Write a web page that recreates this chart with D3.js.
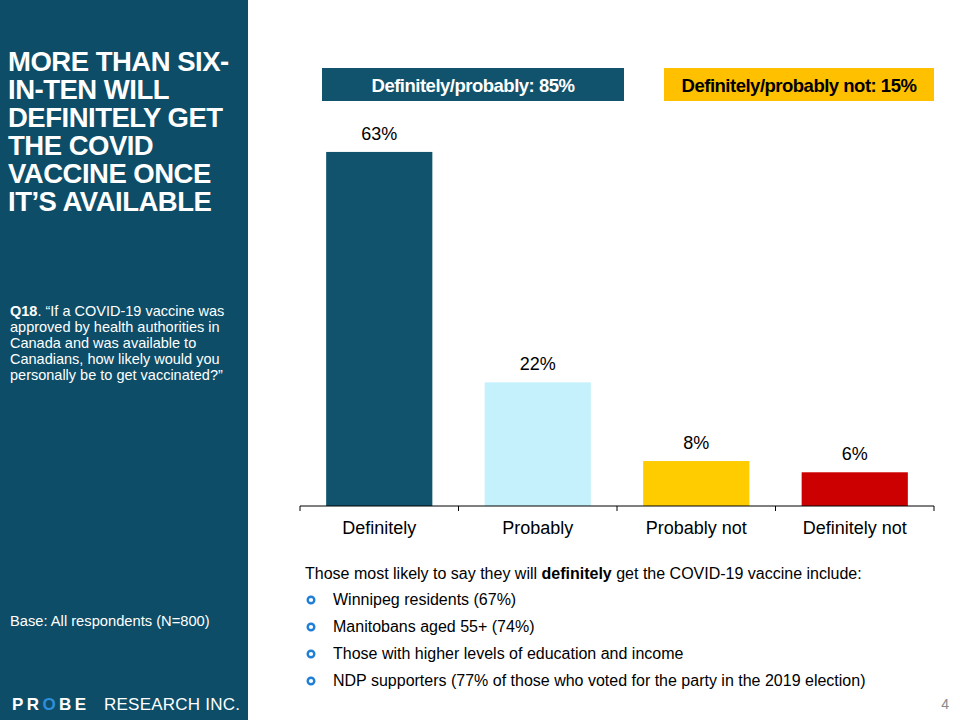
<!DOCTYPE html>
<html><head><meta charset="utf-8">
<script src="https://cdn.jsdelivr.net/npm/d3@7"></script>
<style>body{margin:0;background:#fff}svg{display:block}text{font-family:"Liberation Sans",Arial,sans-serif}</style>
</head><body><svg id="c" width="960" height="720"></svg>
<script>
const categories = ["Definitely", "Probably", "Probably not", "Definitely not"];
const values = [63, 22, 8, 6];
const barColors = ["#11536d", "#c5f1fc", "#ffcc00", "#cc0000"];
const summaryLabels = ["Definitely/probably: 85%", "Definitely/probably not: 15%"];
const titleLines = ["MORE THAN SIX-", "IN-TEN WILL", "DEFINITELY GET", "THE COVID", "VACCINE ONCE", "IT\u2019S AVAILABLE"];
const questionLines = ["\u201cIf a COVID-19 vaccine was", "approved by health authorities in", "Canada and was available to", "Canadians, how likely would you", "personally be to get vaccinated?\u201d"];
const bullets = ["Winnipeg residents (67%)", "Manitobans aged 55+ (74%)", "Those with higher levels of education and income", "NDP supporters (77% of those who voted for the party in the 2019 election)"];

const svg = d3.select("#c");
const panel = "#0d4d68";

// left panel
svg.append("rect").attr("x",0).attr("y",0).attr("width",248).attr("height",720).attr("fill",panel);
svg.append("g").selectAll("text").data(titleLines).join("text")
  .attr("x",8).attr("y",(d,i)=>71+i*28)
  .attr("fill","#fff").attr("font-weight","bold").attr("font-size",27.5)
  .attr("letter-spacing",-0.5)
  .text(d=>d);
const q = svg.append("text").attr("fill","#fff").attr("font-size",14.5);
questionLines.forEach((l,i)=>{
  const t = q.append("tspan").attr("x",10).attr("y",316+i*16);
  if(i===0){ t.append("tspan").attr("font-weight","bold").text("Q18"); t.append("tspan").text(". "+l); }
  else t.text(l);
});
svg.append("text").attr("x",10).attr("y",626).attr("fill","#fff").attr("font-size",14.7)
  .text("Base: All respondents (N=800)");
const logoFont = "'DejaVu Sans',sans-serif";
const logo1 = svg.append("text").attr("x",12).attr("y",710).attr("fill","#fff").attr("font-size",17)
  .attr("font-family",logoFont).attr("font-weight","bold")
  .attr("textLength",74).attr("lengthAdjust","spacing");
logo1.append("tspan").text("PR");
logo1.append("tspan").attr("fill","#2d8fdc").text("O");
logo1.append("tspan").text("BE");
svg.append("text").attr("x",104).attr("y",710).attr("fill","#fff").attr("font-size",17)
  .attr("font-family",logoFont).attr("textLength",136).attr("lengthAdjust","spacing")
  .text("RESEARCH INC.");

// chart
const x = d3.scaleBand().domain(categories).range([300,934]).paddingInner(0.33).paddingOuter(0.165);
const y = d3.scaleLinear().domain([0,70]).range([506,112.6]);
const g = svg.append("g");
g.selectAll("rect.bar").data(values).join("rect").attr("class","bar")
  .attr("x",(d,i)=>x(categories[i])).attr("width",x.bandwidth())
  .attr("y",d=>y(d)).attr("height",d=>y(0)-y(d))
  .attr("fill",(d,i)=>barColors[i]);
g.selectAll("text.val").data(values).join("text").attr("class","val")
  .attr("x",(d,i)=>x(categories[i])+x.bandwidth()/2).attr("y",d=>y(d)-12)
  .attr("text-anchor","middle").attr("font-size",18).attr("fill","#000")
  .text(d=>d+"%");
const axis = d3.axisBottom(x).tickSize(0).tickPadding(15);
const ax = svg.append("g").attr("transform","translate(0,506)").call(axis);
ax.select(".domain").remove();
ax.append("line").attr("x1",300).attr("x2",934).attr("stroke","#000").attr("stroke-width",1);
const edges = [300].concat(categories.map(c=>x(c)-x.step()*x.paddingInner()/2+x.step()));
ax.selectAll("line.tk").data(edges).join("line").attr("class","tk")
  .attr("x1",d=>d).attr("x2",d=>d).attr("y1",0).attr("y2",5).attr("stroke","#000");
ax.selectAll(".tick text").attr("font-size",18).attr("fill","#000")
  .attr("font-family","'Liberation Sans',Arial,sans-serif");

// summary boxes
const boxes = [{x0:322,x1:624,fill:"#11536d",color:"#fff"},{x0:664,x1:934,fill:"#ffc000",color:"#000"}];
boxes.forEach((b,i)=>{
  svg.append("rect").attr("x",b.x0).attr("y",68).attr("width",b.x1-b.x0).attr("height",33).attr("fill",b.fill);
  svg.append("text").attr("x",(b.x0+b.x1)/2).attr("y",91.5).attr("text-anchor","middle")
    .attr("font-size",18.5).attr("font-weight","bold").attr("fill",b.color).attr("letter-spacing",-0.5)
    .text(summaryLabels[i]);
});

// bottom notes
const intro = svg.append("text").attr("x",305).attr("y",579).attr("font-size",16).attr("fill","#000");
intro.append("tspan").text("Those most likely to say they will ");
intro.append("tspan").attr("font-weight","bold").text("definitely");
intro.append("tspan").text(" get the COVID-19 vaccine include:");
bullets.forEach((b,i)=>{
  const yy = 605+i*27;
  svg.append("circle").attr("cx",311).attr("cy",yy-5).attr("r",3.3).attr("fill","#fff")
    .attr("stroke","#1f7fd6").attr("stroke-width",2.4);
  svg.append("text").attr("x",333).attr("y",yy).attr("font-size",16).attr("fill","#000").text(b);
});
svg.append("text").attr("x",949).attr("y",709).attr("text-anchor","end").attr("font-size",14).attr("fill","#888").text("4");
</script></body></html>
